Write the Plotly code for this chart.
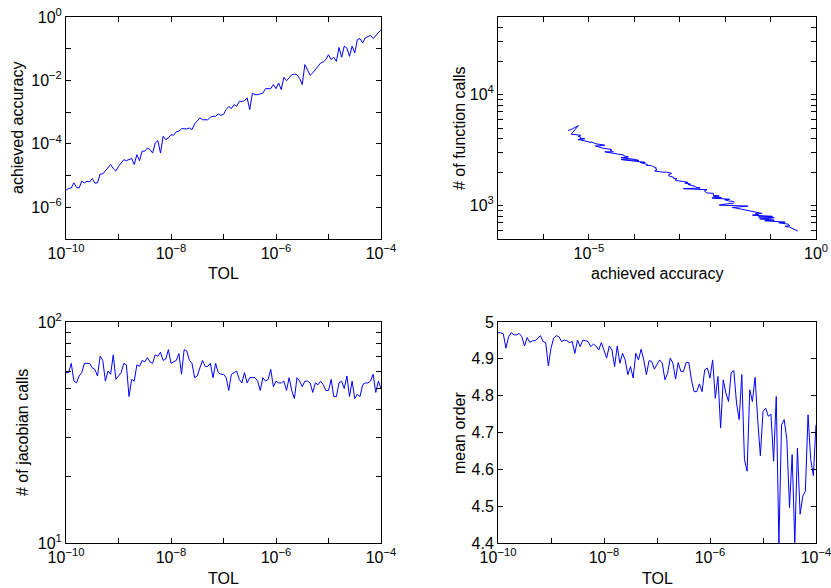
import numpy as np
import plotly.graph_objects as go

# TOL grid (121 tolerances, 1e-10 .. 1e-4)
tol = np.logspace(-10, -4, 121)

# log10 of achieved accuracy
log10_accuracy = [
    -5.46, -5.41, -5.39, -5.23, -5.37, -5.39, -5.18, -5.23, -5.18, -5.20, -5.09, -5.24, -5.23, -4.95, -4.95, -4.84, -4.74, -4.65, -4.78, -4.86, -4.71,
    -4.60, -4.50, -4.53, -4.50, -4.46, -4.65, -4.34, -4.53, -4.23, -4.23, -4.13, -4.18, -4.29, -3.97, -3.90, -4.29, -3.76, -3.87, -3.81, -3.71,
    -3.73, -3.62, -3.60, -3.52, -3.52, -3.53, -3.50, -3.55, -3.37, -3.29, -3.18, -3.24, -3.24, -3.24, -3.16, -3.13, -3.13, -3.06, -3.10, -3.07,
    -2.92, -2.82, -2.89, -2.76, -2.82, -2.66, -2.66, -2.64, -2.55, -2.92, -2.40, -2.45, -2.45, -2.43, -2.40, -2.26, -2.26, -2.26, -2.13, -2.26,
    -2.08, -2.29, -1.90, -2.01, -1.92, -1.82, -1.80, -1.82, -1.94, -2.13, -1.50, -1.69, -1.84, -1.76, -1.66, -1.55, -1.45, -1.42, -1.34, -1.19,
    -1.34, -1.27, -1.40, -0.96, -1.27, -0.92, -0.98, -1.24, -0.92, -1.13, -0.71, -0.68, -0.82, -0.66, -0.61, -0.58, -0.68, -0.58, -0.50, -0.40,
]

function_calls = [
    4740, 4800, 4850, 5250, 4450, 4400, 4300, 4200, 4150, 4050, 4000, 3900, 3950, 3700, 3750, 3600, 3550, 3500, 3450, 3450, 3300,
    3250, 3200, 3150, 3100, 3050, 3050, 2900, 2950, 2850, 2800, 2750, 2700, 2700, 2600, 2550, 2600, 2450, 2450, 2400, 2350,
    2300, 2300, 2250, 2200, 2150, 2150, 2100, 2050, 2000, 2000, 1950, 1900, 1900, 1850, 1800, 1800, 1750, 1750, 1700, 1680,
    1650, 1620, 1600, 1560, 1550, 1510, 1490, 1460, 1440, 1420, 1390, 1370, 1350, 1320, 1300, 1290, 1260, 1240, 1220, 1200,
    1180, 1170, 1140, 1130, 1100, 1090, 1070, 1050, 1040, 1010, 990, 980, 960, 950, 930, 920, 900, 890, 870, 850,
    840, 830, 820, 800, 790, 780, 770, 760, 740, 730, 720, 710, 700, 690, 680, 660, 650, 640, 620, 590,
]

jacobian_calls = [
    59, 59, 65, 54, 53, 57, 59, 65, 65, 65, 62, 61, 57, 70, 67, 54, 60, 58, 71, 55, 57,
    59, 65, 64, 46, 55, 54, 64, 63, 67, 66, 69, 66, 65, 71, 70, 73, 67, 68, 75, 65,
    66, 67, 72, 58, 75, 74, 67, 65, 56, 57, 62, 67, 63, 63, 65, 56, 65, 59, 58, 58,
    56, 49, 58, 59, 60, 55, 53, 59, 53, 56, 56, 56, 54, 49, 56, 54, 55, 61, 51, 54,
    53, 53, 54, 49, 56, 49, 45, 56, 54, 51, 54, 54, 53, 48, 53, 52, 54, 52, 49, 49,
    55, 46, 46, 53, 54, 50, 57, 46, 54, 45, 47, 46, 52, 53, 53, 54, 58, 48, 54, 50,
]

mean_order = [
    4.971, 4.971, 4.968, 4.929, 4.960, 4.971, 4.965, 4.965, 4.969, 4.960, 4.935, 4.958, 4.945, 4.949, 4.949, 4.956, 4.963, 4.947, 4.944, 4.881, 4.929,
    4.956, 4.963, 4.960, 4.947, 4.951, 4.949, 4.944, 4.947, 4.915, 4.951, 4.933, 4.951, 4.949, 4.947, 4.933, 4.940, 4.935, 4.924, 4.944, 4.920,
    4.902, 4.935, 4.924, 4.879, 4.935, 4.888, 4.915, 4.897, 4.857, 4.879, 4.848, 4.915, 4.897, 4.926, 4.897, 4.857, 4.895, 4.893, 4.872, 4.885,
    4.897, 4.888, 4.843, 4.861, 4.902, 4.888, 4.845, 4.890, 4.866, 4.866, 4.890, 4.890, 4.843, 4.811, 4.811, 4.832, 4.811, 4.870, 4.875, 4.848,
    4.897, 4.793, 4.852, 4.712, 4.843, 4.807, 4.784, 4.863, 4.868, 4.780, 4.735, 4.857, 4.627, 4.595, 4.816, 4.784, 4.850, 4.735, 4.637, 4.757,
    4.766, 4.744, 4.750, 4.622, 4.798, 4.400, 4.721, 4.735, 4.681, 4.496, 4.640, 4.401, 4.658, 4.478, 4.527, 4.541, 4.748, 4.627, 4.583, 4.721,
]

accuracy = [10 ** v for v in log10_accuracy]

W, H = 831, 588
FONT = "Liberation Sans, Arial, sans-serif"
FS = 16
LINE = dict(color="#0000ff", width=1)


# positions are given in window pixels
def pw(x0, x1):
    return [x0 / W, x1 / W]


def ph(y_top, y_bot):
    return [1 - y_bot / H, 1 - y_top / H]


def sup(e):
    return "10<sup>%s</sup>" % (str(e).replace("-", "\u2212"))


def log_ticks(lo, hi, labelled, minor=False):
    vals, text = [], []
    for e in range(lo, hi + 1):
        vals.append(10.0 ** e)
        text.append(sup(e) if e in labelled else "")
        if minor and e < hi:
            for m in range(2, 10):
                vals.append(m * 10.0 ** e)
                text.append("")
    return vals, text


def ax(**kw):
    base = dict(showline=True, linecolor="black", linewidth=1, mirror="ticks",
                ticks="inside", ticklen=5, tickcolor="black", showgrid=False,
                zeroline=False, automargin=False, ticklabeloverflow="allow",
                tickfont=dict(family=FONT, size=FS, color="black"))
    base.update(kw)
    return base


fig = go.Figure()
fig.add_trace(go.Scatter(x=tol, y=accuracy, mode="lines", line=LINE, xaxis="x", yaxis="y"))
fig.add_trace(go.Scatter(x=accuracy, y=function_calls, mode="lines", line=LINE, xaxis="x2", yaxis="y2"))
fig.add_trace(go.Scatter(x=tol, y=jacobian_calls, mode="lines", line=LINE, xaxis="x3", yaxis="y3"))
fig.add_trace(go.Scatter(x=tol, y=mean_order, mode="lines", line=LINE, xaxis="x4", yaxis="y4"))

tx, tt = log_ticks(-10, -4, [-10, -8, -6, -4])
ty1, tt1 = log_ticks(-7, 0, [-6, -4, -2, 0])
tx2, tt2 = log_ticks(-7, 0, [-5, 0])
ty2_vals, ty2_text = [], []
for v in [500, 600, 700, 800, 900, 1000, 2000, 3000, 4000, 5000, 6000, 7000, 8000, 9000,
          10000, 20000, 30000, 40000, 50000]:
    ty2_vals.append(v)
    ty2_text.append(sup(3) if v == 1000 else sup(4) if v == 10000 else "")
ty3, tt3 = log_ticks(1, 2, [1, 2], minor=True)

left, right = (66, 381), (498, 816)
top, bot = (17, 239), (322, 543)

fig.update_layout(
    width=W, height=H, showlegend=False, template="none",
    paper_bgcolor="white", plot_bgcolor="white",
    margin=dict(l=0, r=0, t=0, b=0, autoexpand=False),
    font=dict(family=FONT, size=FS, color="black"),
    xaxis=ax(type="log", range=[-10, -4], domain=pw(*left), anchor="y", tickvals=tx, ticktext=tt),
    yaxis=ax(type="log", range=[-7, 0], domain=ph(*top), anchor="x", tickvals=ty1, ticktext=tt1),
    xaxis2=ax(type="log", range=[-7, 0], domain=pw(*right), anchor="y2", tickvals=tx2, ticktext=tt2),
    yaxis2=ax(type="log", range=[np.log10(500), np.log10(50000)], domain=ph(*top), anchor="x2",
              tickvals=ty2_vals, ticktext=ty2_text),
    xaxis3=ax(type="log", range=[-10, -4], domain=pw(*left), anchor="y3", tickvals=tx, ticktext=tt),
    yaxis3=ax(type="log", range=[1, 2], domain=ph(*bot), anchor="x3", tickvals=ty3, ticktext=tt3),
    xaxis4=ax(type="log", range=[-10, -4], domain=pw(*right), anchor="y4", tickvals=tx, ticktext=tt),
    yaxis4=ax(range=[4.4, 5.0], domain=ph(*bot), anchor="x4", tickvals=[4.4, 4.5, 4.6, 4.7, 4.8, 4.9, 5.0],
              ticktext=["4.4", "4.5", "4.6", "4.7", "4.8", "4.9", "5"]),
)

# axis titles as paper annotations (window pixel centres)
titles = [
    ("TOL", 223, 273, 0),
    ("achieved accuracy", 657, 273, 0),
    ("TOL", 223, 578, 0),
    ("TOL", 657, 578, 0),
    ("achieved accuracy", 17, 128, -90),
    ("# of function calls", 459, 128, -90),
    ("# of jacobian calls", 22, 433, -90),
    ("mean order", 459, 433, -90),
]
for text, x, y, ang in titles:
    fig.add_annotation(text=text, x=x / W, y=1 - y / H, xref="paper", yref="paper",
                       showarrow=False, textangle=ang, xanchor="center", yanchor="middle",
                       font=dict(family=FONT, size=FS, color="black"))

# drop the default page margin so the figure sits at the window corner
fig.write_html("out.html", config={"displayModeBar": False},
               post_script="document.body.style.margin='0';document.body.style.overflow='hidden';")
